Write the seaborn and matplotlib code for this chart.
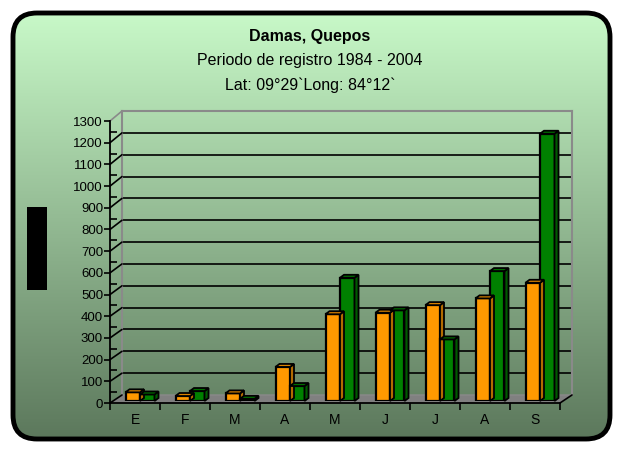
import numpy as np
import pandas as pd
import matplotlib
matplotlib.use("Agg")
import matplotlib.pyplot as plt
import seaborn as sns
from matplotlib.patches import FancyBboxPatch, Polygon, Rectangle, ConnectionPatch

# data
meses = ["E", "F", "M", "A", "M", "J", "J", "A", "S"]
serie_1 = [40, 23, 35, 157, 400, 407, 442, 473, 545]
serie_2 = [30, 46, 10, 69, 568, 418, 284, 599, 1232]
y_ticks = list(range(0, 1301, 100))

W, H = 619, 449
naranja = "#ff9900"
verde = "#008000"


def fig_box(left, top, right, bottom):
    # pixel box -> figure fraction [x, y, w, h]
    return [left / W, 1 - bottom / H, (right - left) / W, (bottom - top) / H]


sns.set_theme(style="white")
plt.rcParams["font.family"] = ["Liberation Sans", "DejaVu Sans"]
plt.rcParams["text.color"] = "black"
plt.rcParams["xtick.color"] = "black"
plt.rcParams["ytick.color"] = "black"

fig = plt.figure(figsize=(W / 100, H / 100), dpi=100)
fig.patch.set_facecolor("white")

# background with rounded frame and green gradient
bg = fig.add_axes([0, 0, 1, 1], zorder=-5)
bg.set_xlim(0, W)
bg.set_ylim(H, 0)
bg.axis("off")
top_c = np.array([200, 249, 200]) / 255
bot_c = np.array([92, 120, 92]) / 255
t = np.linspace(0, 1, 256)[:, None]
grad = (top_c * (1 - t) + bot_c * t)[:, None, :]
frame = FancyBboxPatch((13, 13), 597, 426, boxstyle="round,pad=0,rounding_size=24",
                       facecolor="none", edgecolor="black", linewidth=3.5)
bg.add_patch(frame)
im = bg.imshow(grad, extent=(13, 610, 439, 13), aspect="auto", zorder=0)
im.set_clip_path(frame)

# back wall with gridlines
back = fig.add_axes(fig_box(122, 111, 572, 395), zorder=-3)
back.set_facecolor("none")
back.set_xlim(-0.5, 8.5)
back.set_ylim(0, 1300)
for v in y_ticks[1:-1]:
    back.axhline(v, color="black", linewidth=1.2)
back.set_xticks([])
back.set_yticks([])
for s in ["left", "top", "right"]:
    back.spines[s].set_color("#8a8a8a")
    back.spines[s].set_linewidth(1.5)
back.spines["bottom"].set_visible(False)

# front axis (ticks and labels)
front = fig.add_axes(fig_box(110, 121, 560, 403), zorder=-1)
front.set_facecolor("none")
front.set_xlim(-0.5, 8.5)
front.set_ylim(0, 1300)
front.set_yticks(y_ticks)
front.set_yticklabels([str(v) for v in y_ticks], fontsize=9.5)
front.set_yticks(np.arange(50, 1300, 100), minor=True)
front.tick_params(axis="y", which="major", direction="out", length=4, width=1.2,
                  color="black", labelcolor="black", pad=1, left=True)
front.tick_params(axis="y", which="minor", direction="in", length=5, width=1.2,
                  color="black", left=True)
front.set_xticks(np.arange(-0.5, 9, 1))
front.set_xticklabels([])
front.set_xticks(np.arange(0, 9), minor=True)
front.set_xticklabels(meses, minor=True, fontsize=10)
front.tick_params(axis="x", which="major", direction="out", length=5, width=1.2,
                  color="black", bottom=True)
front.tick_params(axis="x", which="minor", length=0, pad=7, labelcolor="black")
for s in ["top", "right"]:
    front.spines[s].set_visible(False)
for s in ["left", "bottom"]:
    front.spines[s].set_color("black")
    front.spines[s].set_linewidth(1.3)

# floor
inv = fig.transFigure.inverted()
corners = [front.transData.transform((-0.5, 0)), front.transData.transform((8.5, 0)),
           back.transData.transform((8.5, 0)), back.transData.transform((-0.5, 0))]
floor = Polygon([inv.transform(c) for c in corners], closed=True, transform=fig.transFigure,
                facecolor="#808080", edgecolor="#8a8a8a", linewidth=1, zorder=-2)
fig.patches.append(floor)

# diagonals from the front ticks to the back wall
for v in y_ticks:
    con = ConnectionPatch(xyA=(-0.5, v), coordsA=front.transData,
                          xyB=(-0.5, v), coordsB=back.transData,
                          color="black" if v < 1300 else "#8a8a8a", linewidth=1.2,
                          zorder=-1)
    fig.add_artist(con)
fig.add_artist(ConnectionPatch(xyA=(8.5, 0), coordsA=front.transData,
                               xyB=(8.5, 0), coordsB=back.transData,
                               color="black", linewidth=1.2, zorder=-1))

# bars
bars = fig.add_axes(fig_box(115, 119, 565, 401), zorder=1)
bars.set_facecolor("none")
df = pd.DataFrame({
    "mes": list(range(9)) * 2,
    "valor": serie_1 + serie_2,
    "serie": ["s1"] * 9 + ["s2"] * 9,
})
sns.barplot(data=df, x="mes", y="valor", hue="serie", palette=[naranja, verde],
            width=0.58, edgecolor="black", linewidth=1.6, saturation=1,
            legend=False, ax=bars)
bars.set_xlim(-0.5, 8.5)
bars.set_ylim(0, 1300)
bars.axis("off")

# fake depth: top and side faces
dx = 4 * 9 / 450
dy = 3 * 1300 / 282
for p in list(bars.patches):
    x0, w, h = p.get_x(), p.get_width(), p.get_height()
    fc = np.array(p.get_facecolor()[:3])
    top_face = Polygon([(x0, h), (x0 + w, h), (x0 + w + dx, h + dy), (x0 + dx, h + dy)],
                       closed=True, facecolor=fc * 0.85, edgecolor="black",
                       linewidth=1.3, clip_on=False)
    side_face = Polygon([(x0 + w, 0), (x0 + w + dx, dy), (x0 + w + dx, h + dy), (x0 + w, h)],
                        closed=True, facecolor=fc * 0.7, edgecolor="black",
                        linewidth=1.3, clip_on=False)
    bars.add_patch(side_face)
    bars.add_patch(top_face)

# titles
fig.text(310 / W, 1 - 37 / H, "Damas, Quepos", ha="center", va="center",
         fontsize=11.5, fontweight="bold")
fig.text(310 / W, 1 - 61 / H, "Periodo de registro 1984 - 2004", ha="center",
         va="center", fontsize=11.5)
fig.text(310 / W, 1 - 85 / H, "Lat: 09°29`Long: 84°12`", ha="center",
         va="center", fontsize=11.5)

# black block on the left (hidden axis label)
fig.patches.append(Rectangle((27 / W, 1 - 290 / H), 20 / W, 83 / H,
                             transform=fig.transFigure, facecolor="black",
                             edgecolor="none"))

fig.savefig("out.png", dpi=100)
